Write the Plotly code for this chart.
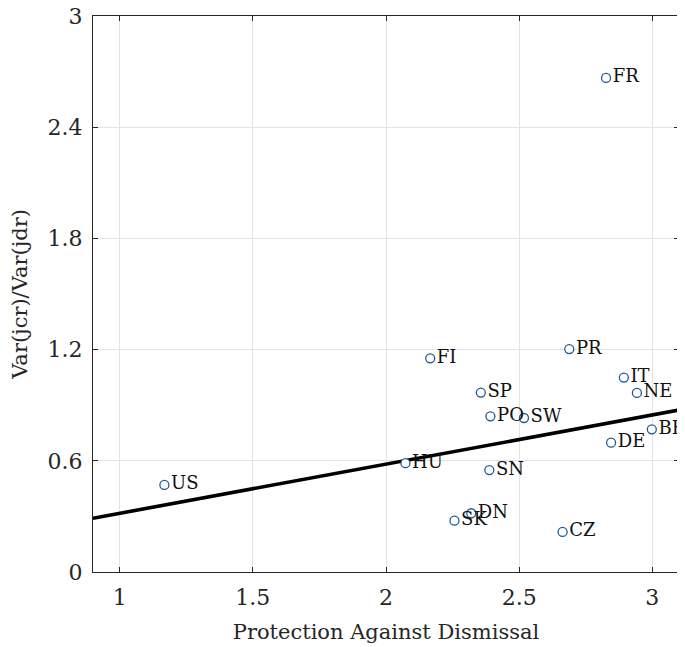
import plotly.graph_objects as go

countries = ["US", "FR", "FI", "PR", "IT", "NE", "SP", "PO", "SW", "BE", "DE", "HU", "SN", "DN", "SK", "CZ"]
protection = [1.168, 2.826, 2.166, 2.688, 2.893, 2.942, 2.356, 2.392, 2.518, 2.998, 2.845, 2.073, 2.388, 2.320, 2.257, 2.663]
var_ratio = [0.470, 2.666, 1.153, 1.203, 1.049, 0.966, 0.968, 0.840, 0.831, 0.770, 0.698, 0.587, 0.550, 0.317, 0.277, 0.216]

fit_x = [0.9, 3.1]
fit_y = [0.290, 0.874]

x_ticks = [1, 1.5, 2, 2.5, 3]
y_ticks = [0, 0.6, 1.2, 1.8, 2.4, 3]

font_family = "DejaVu Serif"

fig = go.Figure()
fig.add_trace(go.Scatter(
    x=fit_x, y=fit_y, mode="lines",
    line=dict(color="black", width=3.6), showlegend=False, hoverinfo="skip"))
fig.add_trace(go.Scatter(
    x=protection, y=var_ratio, mode="markers+text",
    text=countries, textposition="middle right",
    textfont=dict(family=font_family, size=18, color="#111111"),
    marker=dict(symbol="circle", size=9, color="white",
                line=dict(color="#1f5a96", width=1.3)),
    cliponaxis=False,
    showlegend=False))

axis_common = dict(
    showgrid=True, gridcolor="#e3e3e3", gridwidth=1,
    showline=True, linecolor="#262626", linewidth=1, mirror="ticks",
    ticks="inside", ticklen=5, tickcolor="#262626",
    tickfont=dict(family=font_family, size=22, color="#262626"),
    zeroline=False, automargin=False, ticklabeloverflow="allow",
)

fig.update_xaxes(range=[0.9, 3.1], tickvals=x_ticks, ticktext=[str(v) for v in x_ticks],
                 ticklabelstandoff=6,
                 title=dict(text="Protection Against Dismissal",
                            font=dict(family=font_family, size=21, color="#262626"),
                            standoff=14),
                 **axis_common)
fig.update_yaxes(range=[0, 3], tickvals=y_ticks, ticktext=["0", "0.6", "1.2", "1.8", "2.4", "3"],
                 ticklabelstandoff=5,
                 title=dict(text="Var(jcr)/Var(jdr)",
                            font=dict(family=font_family, size=21, color="#262626"),
                            standoff=16),
                 **axis_common)

fig.update_layout(
    width=685, height=647,
    margin=dict(l=85, r=14, t=8, b=83),
    plot_bgcolor="white", paper_bgcolor="white",
)

fig.write_html("out.html")
